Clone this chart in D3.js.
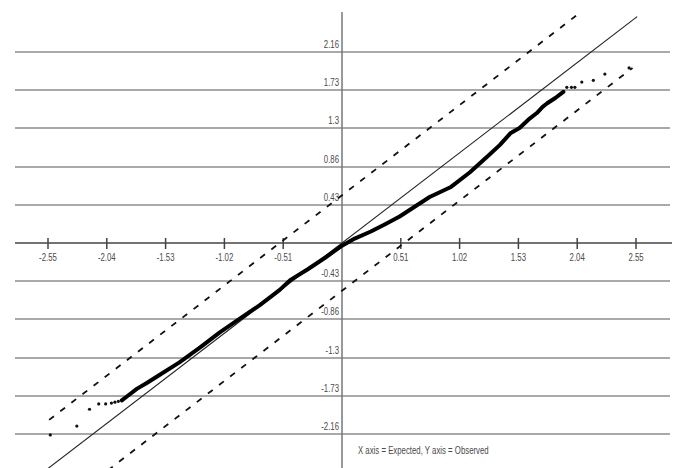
<!DOCTYPE html>
<html>
<head>
<meta charset="utf-8">
<script src="https://cdn.jsdelivr.net/npm/d3@7"></script>
<style>
  html, body { margin: 0; padding: 0; background: #fff; }
  svg text { font-family: "Liberation Sans", Arial, sans-serif; fill: #4a4a4a; }
</style>
</head>
<body>
<div id="qqplot"></div>
<script>
/* data (x = expected, y = observed) */
var xTicks = [-2.55, -2.04, -1.53, -1.02, -0.51, 0.51, 1.02, 1.53, 2.04, 2.55],
    xTickLabels = ["-2.55", "-2.04", "-1.53", "-1.02", "-0.51", "0.51", "1.02", "1.53", "2.04", "2.55"],
    yTicks = [2.16, 1.73, 1.3, 0.86, 0.43, -0.43, -0.86, -1.3, -1.73, -2.16],
    yTickLabels = ["2.16", "1.73", "1.3", "0.86", "0.43", "-0.43", "-0.86", "-1.3", "-1.73", "-2.16"],
    refLine = [[-2.56, -2.56], [2.56, 2.56]],
    upperBand = [[-2.54, -2.0], [2.04, 2.58]],
    lowerBand = [[-2.03, -2.57], [2.52, 1.98]],
    // dense part of the sample, drawn as one heavy trace
    qqDense = [
        [-1.91, -1.78], [-1.86, -1.73], [-1.78, -1.65], [-1.69, -1.58], [-1.58, -1.49],
        [-1.41, -1.35], [-1.23, -1.18], [-1.06, -1.01], [-0.88, -0.85], [-0.71, -0.70],
        [-0.54, -0.53], [-0.45, -0.42], [-0.30, -0.30], [-0.15, -0.17], [0.0, -0.03],
        [0.11, 0.05], [0.25, 0.13], [0.37, 0.21], [0.50, 0.30], [0.63, 0.41],
        [0.76, 0.52], [0.94, 0.63], [1.11, 0.80], [1.28, 1.00], [1.37, 1.11],
        [1.46, 1.24], [1.54, 1.30], [1.63, 1.41], [1.69, 1.47], [1.74, 1.54],
        [1.78, 1.58], [1.85, 1.64], [1.92, 1.71]
    ],
    // sparse tails, drawn as single points
    qqLowTail = [[-2.53, -2.17], [-2.30, -2.07], [-2.19, -1.88], [-2.11, -1.82], [-2.05, -1.82],
        [-2.00, -1.81], [-1.97, -1.80], [-1.94, -1.79]],
    qqHighTail = [[1.95, 1.76], [1.99, 1.76], [2.02, 1.76], [2.08, 1.82], [2.18, 1.84],
        [2.28, 1.91], [2.49, 1.98]],
    note = "X axis = Expected, Y axis = Observed";

/* size */
var width = 675,
    height = 468,
    squeeze = 0.78; // labels in the original are set in a narrow face

var svg = d3.select("#qqplot")
    .append("svg")
    .attr("width", width)
    .attr("height", height);

/* scales */
var x = d3.scaleLinear()
    .domain([-2.55, 2.55])
    .range([48, 636]),
    y = d3.scaleLinear()
    .domain([-2.16, 2.16])
    .range([434, 52]);

var x0 = x(0),
    y0 = y(0);

// fake a condensed font by squeezing each label
function narrow(sel) {
    sel.each(function() {
        var w = this.getComputedTextLength();
        d3.select(this)
            .attr("textLength", w * squeeze)
            .attr("lengthAdjust", "spacingAndGlyphs");
    });
}

/* grid */
svg.append("g")
    .attr("class", "grid")
    .selectAll("line")
    .data(yTicks)
    .join("line")
    .attr("x1", 15)
    .attr("x2", 670)
    .attr("y1", d => y(d))
    .attr("y2", d => y(d))
    .attr("stroke", "#8c8c8c")
    .attr("stroke-width", 1.5);

// y labels sit just above their line, left of the y axis
svg.append("g")
    .attr("class", "y-labels")
    .selectAll("text")
    .data(yTicks)
    .join("text")
    .attr("x", x0 - 3)
    .attr("y", d => y(d) - 4)
    .attr("text-anchor", "end")
    .attr("font-size", 10)
    .text((d, i) => yTickLabels[i])
    .call(narrow);

/* axes */
svg.append("line")
    .attr("x1", 15)
    .attr("x2", 672)
    .attr("y1", y0)
    .attr("y2", y0)
    .attr("stroke", "#444")
    .attr("stroke-width", 1.6);

svg.append("line")
    .attr("x1", x0)
    .attr("x2", x0)
    .attr("y1", 12)
    .attr("y2", height)
    .attr("stroke", "#777")
    .attr("stroke-width", 1.5);

var xt = svg.append("g")
    .attr("class", "x-ticks")
    .selectAll("g")
    .data(xTicks)
    .join("g")
    .attr("transform", d => "translate(" + x(d) + "," + y0 + ")");

xt.append("line")
    .attr("y1", -5)
    .attr("y2", 6)
    .attr("stroke", "#444")
    .attr("stroke-width", 1.5);

xt.append("text")
    .attr("y", 18)
    .attr("text-anchor", "middle")
    .attr("font-size", 10)
    .text((d, i) => xTickLabels[i])
    .call(narrow);

/* lines */
var line = d3.line()
    .x(d => x(d[0]))
    .y(d => y(d[1]));

svg.append("path")
    .attr("d", line(refLine))
    .attr("fill", "none")
    .attr("stroke", "#222")
    .attr("stroke-width", 1.1);

[upperBand, lowerBand].forEach(function(b) {
    svg.append("path")
        .attr("d", line(b))
        .attr("fill", "none")
        .attr("stroke", "#111")
        .attr("stroke-width", 1.8)
        .attr("stroke-dasharray", "6,8");
});

svg.append("path")
    .attr("d", line(qqDense))
    .attr("fill", "none")
    .attr("stroke", "#000")
    .attr("stroke-width", 4)
    .attr("stroke-linejoin", "round")
    .attr("stroke-linecap", "round");

svg.append("g")
    .attr("class", "dots")
    .selectAll("circle")
    .data(qqLowTail.concat(qqHighTail))
    .join("circle")
    .attr("cx", d => x(d[0]))
    .attr("cy", d => y(d[1]))
    .attr("r", 1.6)
    .attr("fill", "#111");

/* note */
svg.append("text")
    .attr("x", 358)
    .attr("y", 454)
    .attr("font-size", 10)
    .text(note)
    .call(narrow);
</script>
</body>
</html>
